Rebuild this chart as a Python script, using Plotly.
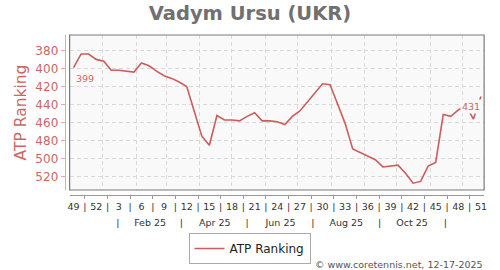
import plotly.graph_objects as go
import pandas as pd

# ---------------- data ----------------
start_date = "2024-12-05"
ranks = [399, 384, 384, 390, 392, 402, 402, 403, 404, 394, 397, 403, 408, 411,
         415, 420, 447, 475, 485, 452, 457, 457, 458, 453, 449, 458, 458, 459,
         462, 453, 447, 437, 426, 417, 418, 440, 461, 489, 493, 497, 501, 509,
         508, 507, 516, 527, 525, 508, 504, 451, 453, 446, 441, 456, 431]
week_labels = ["49", "52", "3", "6", "9", "12", "15", "18", "21", "24", "27",
               "30", "33", "36", "39", "42", "45", "48", "51"]
month_labels = ["Feb 25", "Apr 25", "Jun 25", "Aug 25", "Oct 25"]
month_label_dates = ["2025-02-14", "2025-04-15", "2025-06-15", "2025-08-15", "2025-10-15"]
month_sep_dates = ["2025-01-15", "2025-03-15", "2025-05-15", "2025-07-15",
                   "2025-09-15", "2025-11-15"]
month_grid_dates = ["2025-01-01", "2025-02-01", "2025-03-01", "2025-04-01",
                    "2025-05-01", "2025-06-01", "2025-07-01", "2025-08-01",
                    "2025-09-01", "2025-10-01", "2025-11-01", "2025-12-01"]
y_ticks = [380, 400, 420, 440, 460, 480, 500, 520]

dates = pd.date_range(start_date, periods=len(ranks), freq="7D")
week_tick_dates = list(dates[::3])
week_sep_dates = [d + pd.Timedelta(days=10.5) for d in week_tick_dates[:-1]]

# interleave week labels and separators
wk_vals, wk_text = [], []
for k, d in enumerate(week_tick_dates):
    wk_vals.append(d)
    wk_text.append(week_labels[k])
    if k < len(week_sep_dates):
        wk_vals.append(week_sep_dates[k])
        wk_text.append("|")

mo_vals = []
mo_text = []
for k, d in enumerate(month_sep_dates):
    mo_vals.append(pd.Timestamp(d))
    mo_text.append("|")
    if k < len(month_labels):
        mo_vals.append(pd.Timestamp(month_label_dates[k]))
        mo_text.append(month_labels[k])

# ---------------- layout geometry ----------------
W, H = 500, 270
xd = [68.3 / W, 487 / W]
yd = [1 - 190 / H, 1 - 35 / H]
x_pos = 1 - 194.5 / H
y_pos = 63.3 / W
x_range = [dates[0] - pd.Timedelta(days=3.67), dates[-1] + pd.Timedelta(days=2.94)]

RED = "#cd5c5c"
RED_TXT = "#cc6666"
FONT = "DejaVu Sans"

fig = go.Figure()
fig.add_trace(go.Scatter(
    x=dates, y=ranks, mode="lines", name="ATP Ranking",
    line=dict(color=RED, width=1.6),
))
# empty helper trace so the secondary (month) axis is drawn
fig.add_trace(go.Scatter(x=[], y=[], xaxis="x2", yaxis="y",
                         showlegend=False, hoverinfo="skip"))

fig.update_layout(
    width=W, height=H,
    margin=dict(l=0, r=0, t=0, b=0),
    paper_bgcolor="white",
    plot_bgcolor="#f9f9f9",
    font=dict(family=FONT, color="#333"),
    title=dict(text="Vadym Ursu (UKR)", x=0.5, xanchor="center",
               y=1 - 13 / H, yanchor="middle", yref="container",
               font=dict(family=FONT, size=19.5, color="#707070", weight="bold")),
    xaxis=dict(
        type="date", domain=xd, range=x_range, anchor="free", position=x_pos,
        showline=True, linecolor="#999", linewidth=1,
        showgrid=False, zeroline=False,
        tickmode="array", tickvals=wk_vals, ticktext=wk_text, ticks="",
        tickfont=dict(family=FONT, size=9.5, color="#333"),
        ticklabelstandoff=3,
        minor=dict(tickvals=month_grid_dates, showgrid=True, gridcolor="#d9d9d9",
                   griddash="4px,3px", gridwidth=1, ticks=""),
    ),
    xaxis2=dict(
        type="date", domain=xd, range=x_range, overlaying="x", anchor="free",
        position=x_pos, side="bottom",
        showline=False, showgrid=False, zeroline=False,
        tickmode="array", tickvals=mo_vals, ticktext=mo_text, ticks="",
        tickfont=dict(family=FONT, size=9.5, color="#333"),
        ticklabelstandoff=21,
        minor=dict(tickvals=week_sep_dates, ticks="outside", ticklen=3,
                   tickcolor="#999", tickwidth=1, showgrid=False),
    ),
    yaxis=dict(
        domain=yd, range=[534.5, 363], anchor="free", position=y_pos,
        showline=True, linecolor="#e3a9a9", linewidth=1,
        tickmode="array", tickvals=y_ticks, ticks="outside", ticklen=4,
        tickcolor="#e3a9a9", tickfont=dict(family=FONT, size=12, color=RED_TXT),
        showgrid=True, gridcolor="#d9d9d9", griddash="4px,3px", zeroline=False,
        title=dict(text="ATP Ranking", font=dict(family=FONT, size=15.5, color=RED_TXT),
                   standoff=3),
    ),
    showlegend=True,
    legend=dict(x=0.5, xanchor="center", y=1 - 233 / H, yanchor="top",
                bordercolor="#aaa", borderwidth=1, bgcolor="white",
                font=dict(family=FONT, size=12, color="#222")),
    shapes=[dict(type="rect", xref="paper", yref="paper",
                 x0=xd[0], x1=xd[1], y0=yd[0], y1=yd[1],
                 line=dict(color="#7a7a7a", width=1.2))],
    annotations=[
        dict(x=dates[0], y=ranks[0], xref="x", yref="y", text=str(ranks[0]),
             showarrow=False, xanchor="left", yanchor="top", yshift=-3,
             font=dict(family=FONT, size=9.5, color=RED_TXT)),
        dict(x=dates[-1], y=ranks[-1], xref="x", yref="y", text=str(ranks[-1]),
             showarrow=False, xanchor="right", yanchor="top", yshift=-3, xshift=1,
             bgcolor="#f9f9f9", borderpad=1,
             font=dict(family=FONT, size=9.5, color=RED_TXT)),
        dict(x=488 / W, y=1 - 264.5 / H, xref="paper", yref="paper",
             text="© www.coretennis.net, 12-17-2025", showarrow=False,
             xanchor="right", yanchor="middle",
             font=dict(family=FONT, size=9.5, color="#555")),
    ],
)

fig.write_html("out.html")
